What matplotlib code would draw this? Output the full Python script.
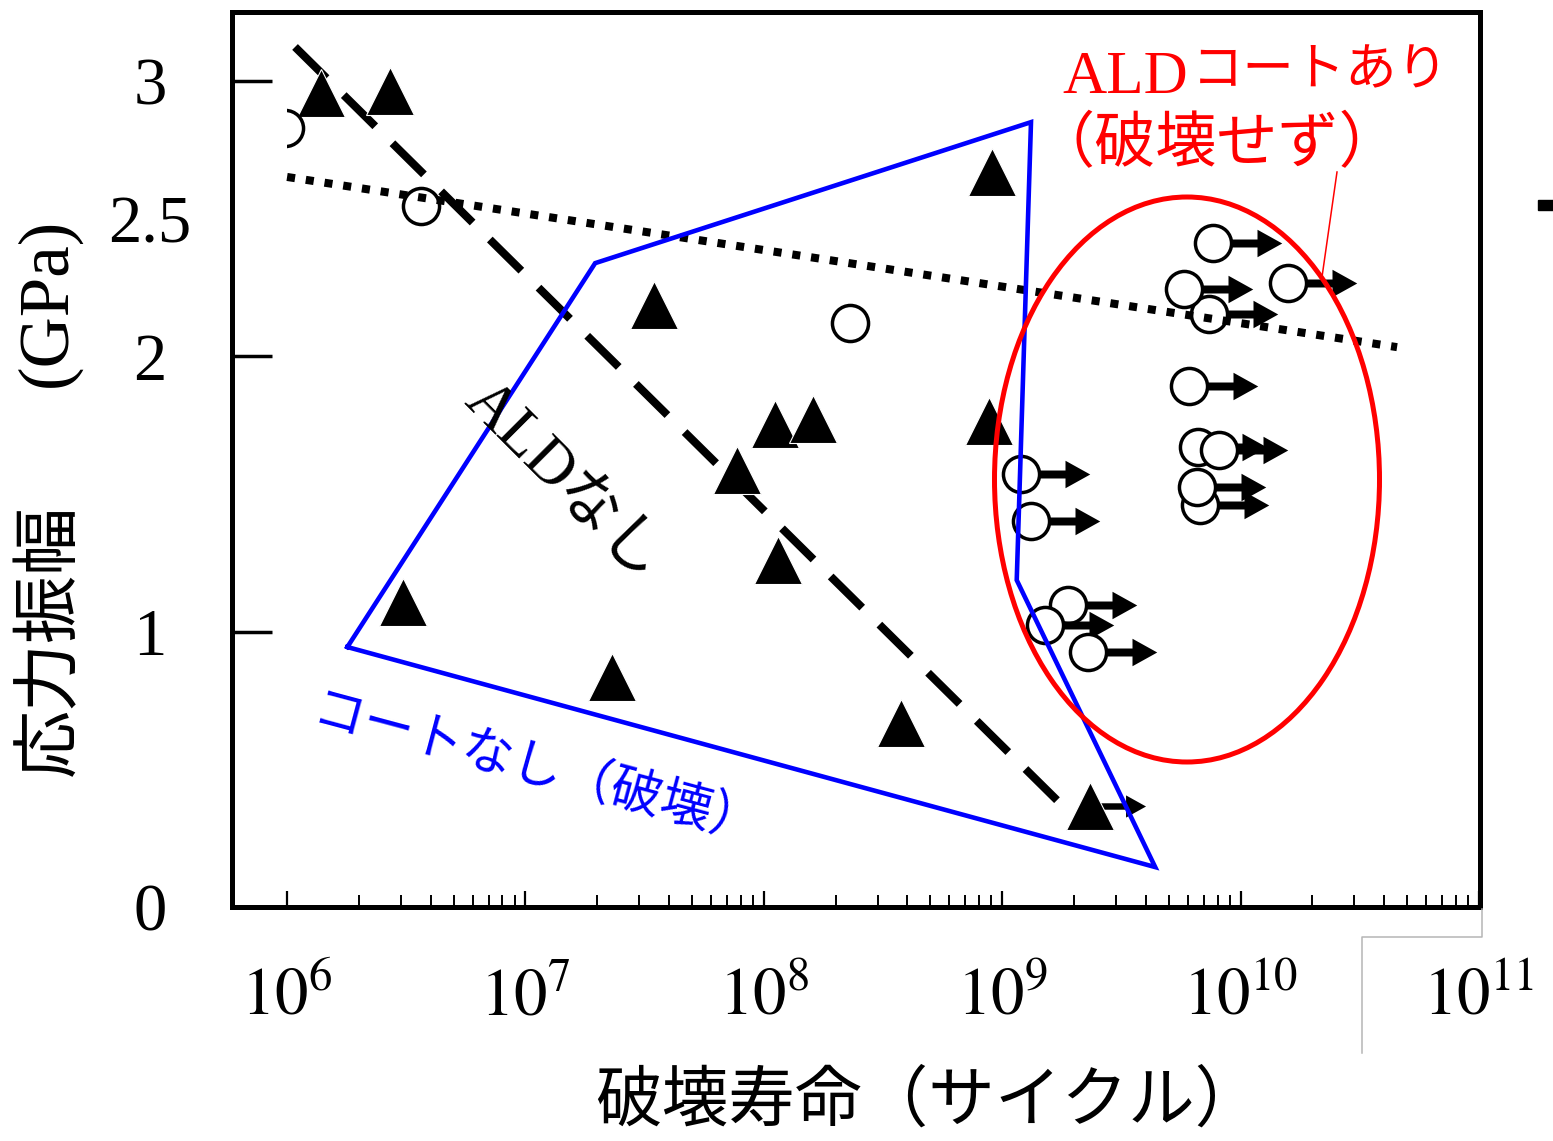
import numpy as np
import matplotlib
matplotlib.use('Agg')
import matplotlib.pyplot as plt
from matplotlib.path import Path
from matplotlib.markers import MarkerStyle
from matplotlib.patches import Ellipse, Rectangle
from matplotlib.lines import Line2D
from matplotlib.ticker import FixedLocator, NullFormatter

plt.rcParams['mathtext.fontset'] = 'stix'

# ---------------- data ----------------
# uncoated, failed specimens (filled triangles)
fail_N = [1.39e6, 2.70e6, 3.46e7, 9.06e8, 1.11e8, 1.61e8, 7.73e7, 1.15e8,
          8.81e8, 3.77e8, 3.07e6, 2.31e7]
fail_S = [2.956, 2.963, 2.186, 2.669, 1.754, 1.772, 1.587, 1.260,
          1.765, 0.668, 1.107, 0.835]
# uncoated run-out (triangle with arrow)
tri_runout_N = [2.33e9]
tri_runout_S = [0.367]
# ALD coated, failed (open circles)
circ_N = [9.82e5, 3.65e6, 2.30e8]
circ_S = [2.829, 2.545, 2.121]
# ALD coated, run-out (open circles with arrows)
runout_N = [7.36e9, 5.79e9, 7.66e9, 1.58e10, 6.08e9, 6.62e9, 8.11e9,
            6.76e9, 6.56e9, 1.20e9, 1.32e9, 1.89e9, 1.51e9, 2.29e9]
runout_S = [2.153, 2.244, 2.411, 2.266, 1.892, 1.670, 1.659,
            1.460, 1.525, 1.572, 1.402, 1.097, 1.024, 0.926]
# trend lines
noald_line_N = [1.08e6, 1.78e9]
noald_line_S = [3.123, 0.370]
ald_line_N = [1.0e6, 4.53e10]
ald_line_S = [2.651, 2.033]
# blue region (uncoated, failed)
region_N = [1.79e6, 1.96e7, 1.32e9, 1.15e9, 4.38e9, 1.79e6]
region_S = [0.944, 2.338, 2.850, 1.187, 0.145, 0.944]
# ticks
x_ticks = [1e6, 1e7, 1e8, 1e9, 1e10, 1e11]
x_ticklabels = [r'$10^{6}$', r'$10^{7}$', r'$10^{8}$', r'$10^{9}$',
                r'$10^{10}$', r'$10^{11}$']
y_ticks = [0, 1, 2, 2.5, 3]
y_ticklabels = ['0', '1', '2', '2.5', '3']

# ---------------- figure ----------------
W, H = 1553, 1141
fig = plt.figure(figsize=(W / 100, H / 100), dpi=100)
ax = fig.add_axes([232 / W, 1 - 907 / H, (1480 - 232) / W, (907 - 12) / H])
ax.set_xscale('log')
ax.set_xlim(10 ** 5.769, 10 ** 11.004)
ax.set_ylim(0, 3.25)


def P(x, y):
    return (x / W, 1 - y / H)


# arrow marker (tail at the point, pointing right)
hs, hh, ls_ = 0.058, 0.20, 0.64
arrow_path = Path([(0, -hs), (ls_, -hs), (ls_, -hh), (1, 0), (ls_, hh),
                   (ls_, hs), (0, hs), (0, -hs)],
                  [Path.MOVETO] + [Path.LINETO] * 6 + [Path.CLOSEPOLY])
arrow_marker = MarkerStyle(arrow_path)

# dashed trend (no ALD)
ax.plot(noald_line_N, noald_line_S, color='black', lw=5.8,
        dashes=(5.5, 3.0), dash_capstyle='butt', zorder=2)

# triangles
ax.plot(tri_runout_N, tri_runout_S, ls='none', marker=arrow_marker, ms=80,
        mfc='black', mec='black', mew=0, zorder=3)
ax.plot(fail_N + tri_runout_N, fail_S + tri_runout_S, ls='none', marker='^',
        ms=35, mfc='black', mec='white', mew=0.8, zorder=3)

# plain open circles (clipped at 1e6)
circ_line, = ax.plot(circ_N, circ_S, ls='none', marker='o', ms=26,
                     mfc='white', mec='black', mew=2.5, zorder=3)
clip_rect = Rectangle((1e6, -1), 1e12, 10, transform=ax.transData)
circ_line.set_clip_path(clip_rect)

# run-out circles with arrows
for n, s in zip(runout_N, runout_S):
    ax.plot([n], [s], ls='none', marker=arrow_marker, ms=99,
            mfc='black', mec='black', mew=0, zorder=3)
    ax.plot([n], [s], ls='none', marker='o', ms=26,
            mfc='white', mec='black', mew=2.5, zorder=3)

# dotted trend (ALD)
ax.plot(ald_line_N, ald_line_S, color='black', lw=5.8,
        dashes=(1.0, 1.35), dash_capstyle='butt', zorder=4)

# blue polygon
ax.plot(region_N, region_S, color='#0000ff', lw=3.3, zorder=5,
        solid_joinstyle='miter')

# red ellipse
ell = Ellipse(((1187 - 232) / 1248, (907 - 479.5) / 895), 385 / 1248, 565 / 895,
              transform=ax.transAxes, fill=False, ec='#ff0000', lw=3.6, zorder=5)
ax.add_patch(ell)

# ---------------- axes styling ----------------
for sp in ax.spines.values():
    sp.set_linewidth(3.6)

ax.set_xticks(x_ticks)
ax.set_xticklabels(x_ticklabels)
ax.xaxis.set_minor_locator(FixedLocator([k * 10.0 ** n for n in range(6, 11)
                                         for k in range(2, 10)]))
ax.xaxis.set_minor_formatter(NullFormatter())
ax.tick_params(axis='x', which='major', direction='in', length=11.5, width=1.6,
               pad=40, labelsize=48, top=False)
ax.tick_params(axis='x', which='minor', direction='in', length=9, width=1.4,
               top=False)

ax.set_yticks(y_ticks)
ax.set_yticklabels(y_ticklabels, fontfamily='Liberation Serif', fontsize=48)
ax.tick_params(axis='y', direction='in', length=29, width=2.5, pad=59, right=False)
for lab in ax.get_yticklabels():
    lab.set_horizontalalignment('center')
yt = ax.yaxis.get_major_ticks()
yt[0].tick1line.set_visible(False)
yt[3].tick1line.set_visible(False)

# ---------------- text ----------------
fig.text(*P(50, 640), '応力振幅', rotation=90, ha='center', va='center',
         fontsize=49, family='Noto Sans CJK JP')
fig.text(*P(48, 302), '(GPa)', rotation=90, ha='center', va='center',
         fontsize=51, family='Liberation Serif')
fig.text(*P(928, 1102), '破壊寿命（サイクル）', ha='center', va='center',
         fontsize=48, family='Noto Sans CJK JP')

fig.text(*P(563, 482), 'ALDなし', rotation=-45, rotation_mode='anchor',
         ha='center', va='center', fontsize=45,
         family=['Liberation Serif', 'Noto Sans CJK JP'], color='black')
fig.text(*P(537, 770), 'コートなし（破壊）', rotation=-15, rotation_mode='anchor',
         ha='center', va='center', fontsize=37, family='Noto Sans CJK JP',
         color='#0000ff')

fig.text(*P(1062, 93), 'ALD', ha='left', va='baseline', fontsize=44,
         family='Liberation Serif', color='#ff0000')
fig.text(*P(1192, 71), 'コートあり', ha='left', va='center', fontsize=37,
         family='Noto Sans CJK JP', color='#ff0000')
fig.text(*P(1217, 145), '（破壊せず）', ha='center', va='center', fontsize=44,
         family='Noto Sans CJK JP', color='#ff0000')

# leader line
x0, y0 = P(1322, 277)
x1, y1 = P(1337, 172)
fig.add_artist(Line2D([x0, x1], [y0, y1], color='#ff0000', lw=1.1))

# crop artefacts at the right edge
gx = [1482, 1482, 1362, 1362]
gy = [909, 937, 937, 1053]
fig.add_artist(Line2D([g / W for g in gx], [1 - g / H for g in gy],
                      color='#b5b5b5', lw=1.1))
fig.add_artist(Rectangle(P(1538, 210), 15 / W, 10 / H,
                         transform=fig.transFigure, color='black'))

fig.savefig('out.png', dpi=100)
